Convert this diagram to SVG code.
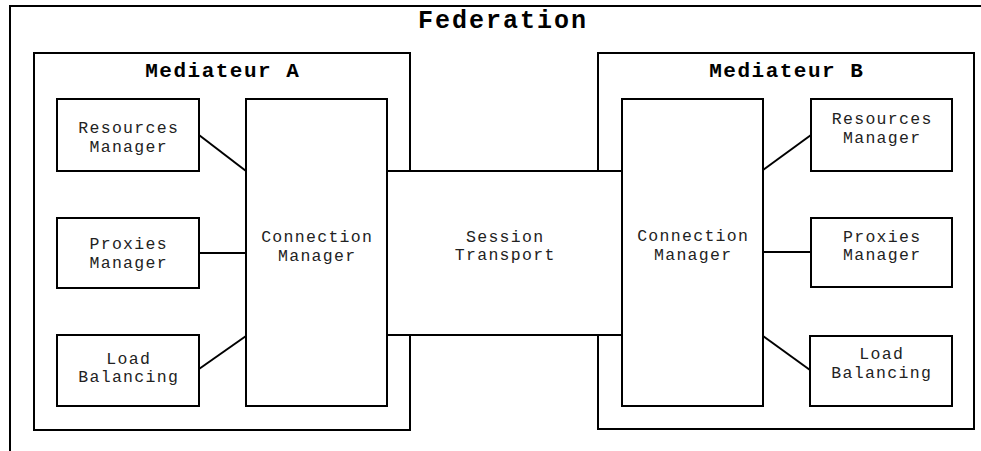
<svg xmlns="http://www.w3.org/2000/svg" width="981" height="451" viewBox="0 0 981 451">
<style>
.box{fill:#fff;stroke:#000;stroke-width:2}
.frame{fill:none;stroke:#000;stroke-width:2}
.t{font-family:"Liberation Mono","Courier New",monospace;font-size:16.5px;letter-spacing:1.3px;fill:#222;text-anchor:middle}
.h1{font-family:"Liberation Mono","Courier New",monospace;font-size:25px;letter-spacing:2px;font-weight:bold;fill:#000;text-anchor:middle}
.h2{font-family:"Liberation Mono","Courier New",monospace;font-size:21px;letter-spacing:1.5px;font-weight:bold;fill:#000;text-anchor:middle}
.c{stroke:#000;stroke-width:2;fill:none}
</style>
<rect width="981" height="451" fill="#fff"/>
<g id="federation">
<path class="frame" d="M10,451 V6 H981"/>
<text class="h1" x="503" y="28">Federation</text>
</g>
<g id="mediateur-a">
<rect class="box" x="34" y="53" width="376" height="377"/>
<text class="h2" x="222.8" y="77">Mediateur A</text>
</g>
<g id="mediateur-b">
<rect class="box" x="598" y="53" width="376" height="376"/>
<text class="h2" x="786.8" y="77">Mediateur B</text>
</g>
<g id="session-transport">
<rect class="box" x="387" y="171" width="235" height="164"/>
<text class="t" x="505.2" y="242">Session</text>
<text class="t" x="505.2" y="260">Transport</text>
</g>
<g id="connection-manager-a">
<rect class="box" x="246" y="99" width="141" height="307"/>
<text class="t" x="317.2" y="242">Connection</text>
<text class="t" x="317.2" y="261">Manager</text>
</g>
<g id="connection-manager-b">
<rect class="box" x="622" y="99" width="141" height="307"/>
<text class="t" x="693.2" y="241">Connection</text>
<text class="t" x="693.2" y="260">Manager</text>
</g>
<g id="resources-manager-a">
<rect class="box" x="57" y="99" width="142" height="72"/>
<text class="t" x="128.7" y="133">Resources</text>
<text class="t" x="128.7" y="152">Manager</text>
</g>
<g id="proxies-manager-a">
<rect class="box" x="57" y="218" width="142" height="70"/>
<text class="t" x="128.7" y="249">Proxies</text>
<text class="t" x="128.7" y="268">Manager</text>
</g>
<g id="load-balancing-a">
<rect class="box" x="57" y="335" width="142" height="71"/>
<text class="t" x="128.7" y="364">Load</text>
<text class="t" x="128.7" y="382">Balancing</text>
</g>
<g id="resources-manager-b">
<rect class="box" x="811" y="99" width="141" height="72"/>
<text class="t" x="882.2" y="124">Resources</text>
<text class="t" x="882.2" y="143">Manager</text>
</g>
<g id="proxies-manager-b">
<rect class="box" x="811" y="218" width="141" height="69"/>
<text class="t" x="882.2" y="242">Proxies</text>
<text class="t" x="882.2" y="260">Manager</text>
</g>
<g id="load-balancing-b">
<rect class="box" x="810" y="336" width="142" height="70"/>
<text class="t" x="881.7" y="359">Load</text>
<text class="t" x="881.7" y="378">Balancing</text>
</g>
<g id="connectors">
<line class="c" x1="199" y1="135" x2="246" y2="171"/>
<line class="c" x1="199" y1="253" x2="246" y2="253"/>
<line class="c" x1="199" y1="369" x2="246" y2="336"/>
<line class="c" x1="763" y1="170" x2="811" y2="135"/>
<line class="c" x1="763" y1="252" x2="811" y2="252"/>
<line class="c" x1="763" y1="336" x2="810" y2="370"/>
</g>
</svg>
